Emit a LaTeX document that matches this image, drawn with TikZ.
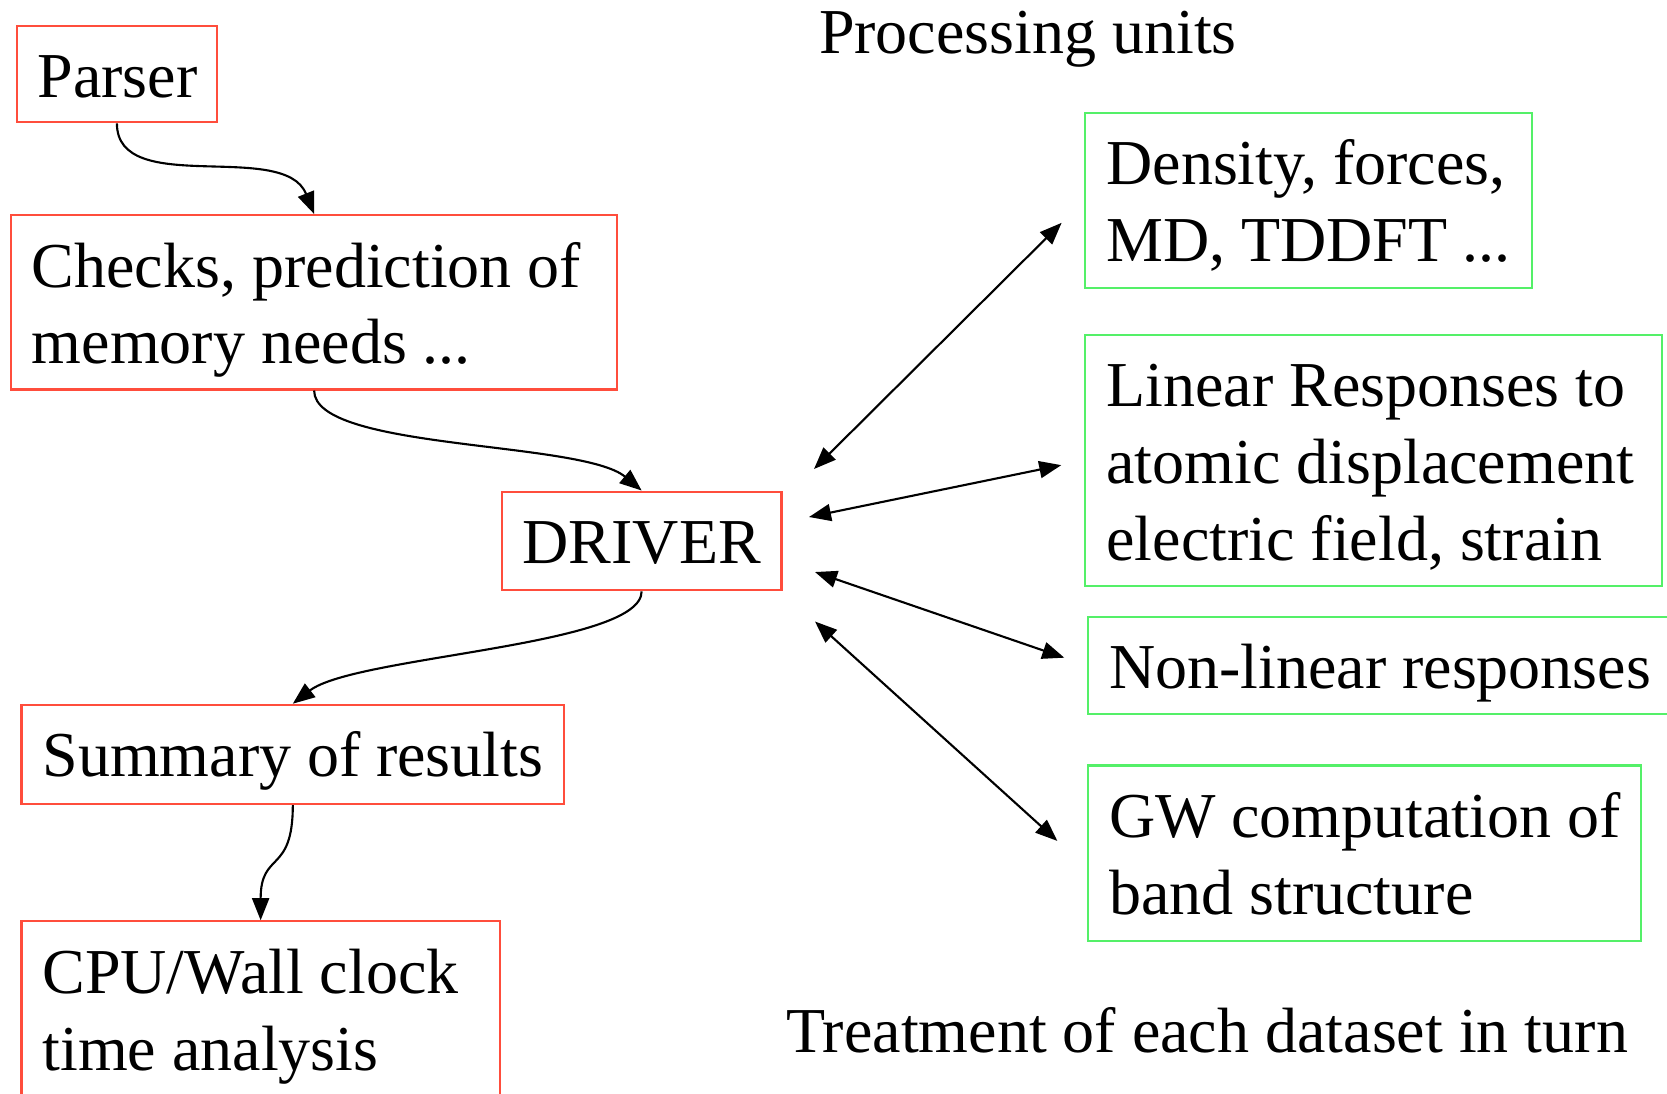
\documentclass[tikz,border=0pt]{standalone}
\usepackage{fontspec}
\setmainfont{Liberation Serif}
\usetikzlibrary{arrows.meta}
\definecolor{unitred}{RGB}{255,77,60}
\definecolor{unitgreen}{RGB}{84,240,104}

\begin{document}
\begin{tikzpicture}[x=0.01cm, y=-0.01cm, line width=0.6pt,
  font=\fontsize{18.2pt}{21.85pt}\selectfont,
  >={Triangle[length=0.22cm,width=0.17cm]},
  unit/.style={draw, inner xsep=0.21cm, inner ysep=0pt, text height=0.72cm, anchor=north west,
    execute at begin node={\spaceskip=0pt\xspaceskip=0pt\hyphenpenalty=10000}},
  redunit/.style={unit, draw=unitred},
  greenunit/.style={unit, draw=unitgreen}]
\useasboundingbox (0,0) rectangle (1667,1093);

% main flow
\node[redunit, text width=1.584cm, text depth=0.247cm] (parser) at (15.6,24.5) {Parser};
\node[redunit, text width=5.642cm, text depth=1.023cm] (checks) at (9.8,214) {Checks, prediction of\\memory needs ...};
\node[redunit, text width=2.376cm, text depth=0.267cm] (driver) at (500.7,490.5) {DRIVER};
\node[redunit, text width=5.004cm, text depth=0.272cm] (summary) at (20.4,703.7) {Summary of results};
\node[redunit, text width=4.361cm, text depth=1.10cm] (cpu) at (20.4,920.2) {CPU/Wall clock\\time analysis};

% processing units
\node[anchor=base west, inner sep=0pt] (units) at (818,53) {Processing units};
\node[greenunit, text width=4.044cm, text depth=1.031cm] (density) at (1084.3,111.6) {Density, forces,\\MD, TDDFT ...};
\node[greenunit, text width=5.345cm, text depth=1.795cm] (linear) at (1084.3,333.5) {Linear Responses to\\atomic displacement\\electric field, strain};
\node[greenunit, text width=5.44cm, text depth=0.258cm] (nonlinear) at (1087,615.5) {Non-linear responses};
\node[greenunit, text width=5.11cm, text depth=1.034cm] (gw) at (1087,764.4) {GW computation of\\band structure};
\node[anchor=base west, inner sep=0pt] (dataset) at (785,1052) {Treatment of each dataset in turn};

\draw[->] (parser.south) .. controls +(0,75) and +(-30,-75) .. (checks.north);
\draw[->] (checks.south) .. controls +(0,60) and +(-60,-50) .. (driver.north);
\draw[->] (driver.south) .. controls +(0,55) and +(62,-48) .. (summary.north);
\draw[->] (summary.south) .. controls +(0,70) and +(0,-70) .. (cpu.north);

% driver <-> units
\coordinate (d1) at (814,469);
\coordinate (d2) at (809,517);
\coordinate (d3) at (815,572);
\coordinate (d4) at (815,621.5);
\draw[<->, shorten >=0.32cm] (d1) -- (density.west);
\draw[<->, shorten >=0.235cm] (d2) -- (linear.west);
\draw[<->, shorten >=0.24cm] (d3) -- (nonlinear.west);
\draw[<->, shorten >=0.40cm] (d4) -- (gw.183);
\end{tikzpicture}
\end{document}
